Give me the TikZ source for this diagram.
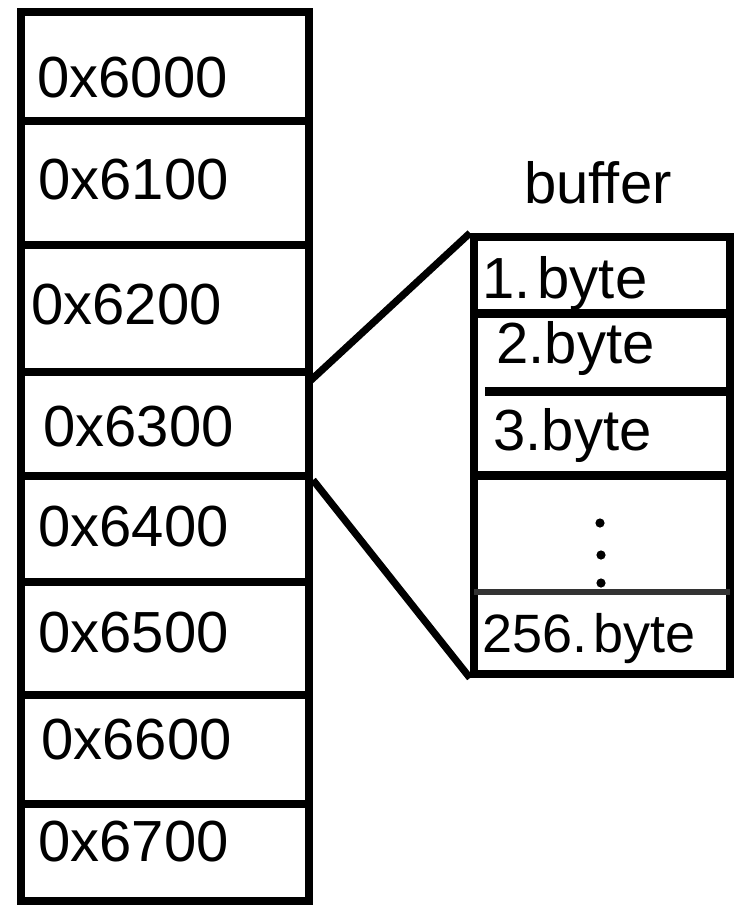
\documentclass[tikz,border=0pt]{standalone}
\usepackage{fontspec}
\setmainfont{Liberation Sans}
\usetikzlibrary{fit}
\begin{document}
\begin{tikzpicture}[x=0.5pt,y=-0.5pt,
  cell/.style={draw=black, line width=4pt, rectangle, inner sep=0pt},
  lbl/.style={anchor=base west, inner sep=0pt, font=\fontsize{29}{34}\selectfont},
  divider/.style={line width=4.5pt},
  thin divider/.style={line width=2.6pt, draw=black!80},
  link/.style={line width=3.6pt},
  dotmark/.style={fill=black, circle, inner sep=0pt, minimum size=4.6pt}]
\useasboundingbox (0,0) rectangle (738,906);
% memory column
\node[cell, fit={(21,12) (309,121)}] (c6000) {};
\node[cell, fit={(21,121) (309,245)}] (c6100) {};
\node[cell, fit={(21,245) (309,372)}] (c6200) {};
\node[cell, fit={(21,372) (309,476)}] (c6300) {};
\node[cell, fit={(21,476) (309,582)}] (c6400) {};
\node[cell, fit={(21,582) (309,695)}] (c6500) {};
\node[cell, fit={(21,695) (309,804)}] (c6600) {};
\node[cell, fit={(21,804) (309,901)}] (c6700) {};
\node[lbl] (t6000) at (37,97) {0x6000};
\node[lbl] (t6100) at (38,199) {0x6100};
\node[lbl] (t6200) at (31,324) {0x6200};
\node[lbl] (t6300) at (43,446) {0x6300};
\node[lbl] (t6400) at (38,546) {0x6400};
\node[lbl] (t6500) at (38,652) {0x6500};
\node[lbl] (t6600) at (41,759) {0x6600};
\node[lbl] (t6700) at (38,861) {0x6700};
% buffer
\node[lbl] (tbuf) at (524,203) {buffer};
\node[cell, fit={(474,237) (730,674)}] (buf) {};
\coordinate (d1l) at (474,313); \coordinate (d1r) at (730,313);
\coordinate (d2l) at (485,391); \coordinate (d2r) at (730,391);
\coordinate (d3l) at (474,475); \coordinate (d3r) at (730,475);
\coordinate (d4l) at (474,592); \coordinate (d4r) at (730,592);
\draw[divider] (d1l) -- (d1r);
\draw[divider] (d2l) -- (d2r);
\draw[divider] (d3l) -- (d3r);
\draw[thin divider] (d4l) -- (d4r);
\node[lbl] (b1) at (482,298) {1.\hspace{0.12em}byte};
\node[lbl] (b2) at (496,363) {2.byte};
\node[lbl] (b3) at (493,450) {3.byte};
\node[lbl, font=\fontsize{27}{32}\selectfont] (b256) at (482,652) {256.\hspace{0.12em}byte};
\node[dotmark] (dt1) at (600,523) {};
\node[dotmark] (dt2) at (601,555) {};
\node[dotmark] (dt3) at (601,583) {};
% links
\coordinate (p1) at (309,382);
\draw[link] (p1) -- (buf.north west);
\draw[link] (c6300.south east) -- (buf.south west);
\end{tikzpicture}
\end{document}
